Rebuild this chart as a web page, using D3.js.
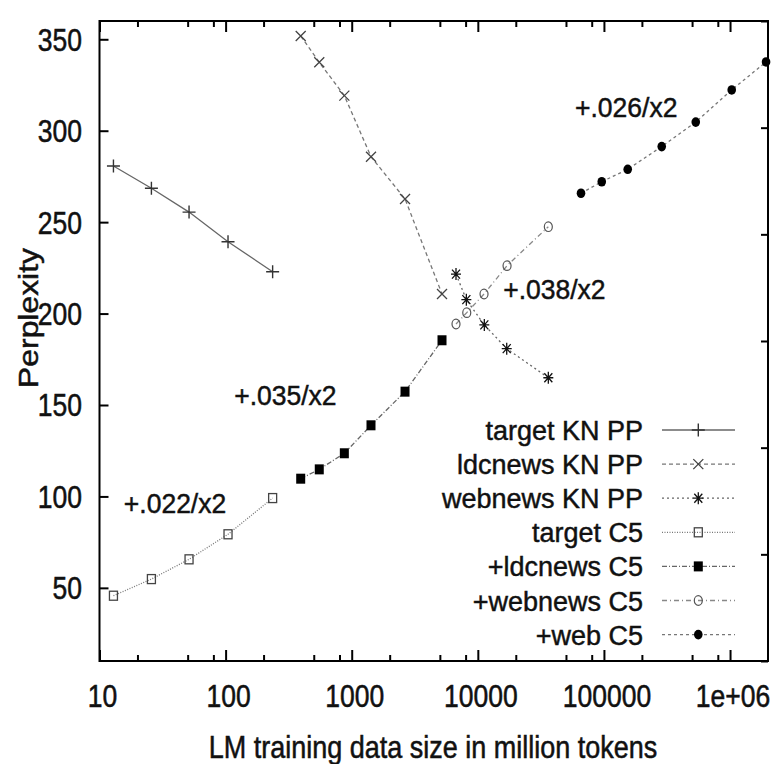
<!DOCTYPE html>
<html>
<head>
<meta charset="utf-8">
<script src="https://cdn.jsdelivr.net/npm/d3@7"></script>
<style>
  body { margin: 0; background: #fff; }
  text { font-family: "Liberation Sans", Arial, sans-serif; fill: #111; stroke: #111; stroke-width: 0.45px; }
</style>
</head>
<body>
<div id="chart"></div>
<script>
// data (x = million tokens, y = perplexity)
var targetX = [12.9, 25.8, 51.3, 104.5, 236];
var ldcX = [394, 553, 874, 1422, 2647, 5200];
var webnewsX = [6714, 8110, 11260, 16950, 36230];
var webnewsC5X = [6714, 8170, 11200, 17050, 36230];
var webX = [65800, 96100, 154400, 287200, 534700, 1031000, 1930000];

var targetKN = [280.7, 268.5, 255.5, 239.3, 222.9];
var ldcnewsKN = [351.8, 337.4, 319.2, 285.8, 262.7, 210.7];
var webnewsKN = [221.6, 207.6, 193.8, 180.8, 164.9];
var targetC5 = [45.7, 54.8, 65.6, 79.3, 99.1];
var ldcnewsC5 = [109.7, 114.8, 123.6, 138.9, 157.3, 185.4];
var webnewsC5 = [194.3, 200.5, 210.7, 226.2, 247.5];
var webC5 = [265.8, 272.1, 278.9, 291.3, 304.7, 322.3, 337.6];

var seriesNames = ["target KN PP", "ldcnews KN PP", "webnews KN PP", "target C5", "+ldcnews C5", "+webnews C5", "+web C5"];

var xMajor = [10, 100, 1000, 10000, 100000, 1000000];
var xTickLabels = ["10", "100", "1000", "10000", "100000", "1e+06"];
var yTicks = [50, 100, 150, 200, 250, 300, 350];

var annoText = ["+.026/x2", "+.038/x2", "+.035/x2", "+.022/x2"];
var annoX = [59000, 15900, 117, 15.6];
var annoY = [307.3, 208, 150, 91.1];

var W = 775, H = 764;
// plot frame (note: "top" is reserved on window, so use other names)
var plotL = 99.5, plotR = 768, plotT = 21, plotB = 661;

var x = d3.scaleLog().domain([10, 2e6]).range([plotL, plotR]);
var y = d3.scaleLinear().domain([10, 360]).range([plotB, plotT]);
var y2 = d3.scaleLinear().domain([0, 6]).range([plotB, plotT]);

var svg = d3.select("#chart").append("svg")
  .attr("width", W).attr("height", H);

// minor ticks at 2,5,8 per decade
var xMinor = [];
xMajor.forEach(function (m) {
  [2, 5, 8].forEach(function (k) {
    if (m * k < 2e6) xMinor.push(m * k);
  });
});

function tickStyle(g) {
  g.select(".domain").remove();
  g.selectAll("line").attr("stroke", "#000").attr("stroke-width", 2);
}

svg.append("g").attr("transform", "translate(0," + plotB + ")")
  .call(d3.axisBottom(x).tickValues(xMajor).tickSize(-11).tickFormat("")).call(tickStyle);
svg.append("g").attr("transform", "translate(0," + plotB + ")")
  .call(d3.axisBottom(x).tickValues(xMinor).tickSize(-6).tickFormat("")).call(tickStyle);
svg.append("g").attr("transform", "translate(0," + plotT + ")")
  .call(d3.axisTop(x).tickValues(xMajor).tickSize(-11).tickFormat("")).call(tickStyle);
svg.append("g").attr("transform", "translate(0," + plotT + ")")
  .call(d3.axisTop(x).tickValues(xMinor).tickSize(-6).tickFormat("")).call(tickStyle);
svg.append("g").attr("transform", "translate(" + plotL + ",0)")
  .call(d3.axisLeft(y).tickValues(yTicks).tickSize(-9).tickFormat("")).call(tickStyle);
svg.append("g").attr("transform", "translate(" + plotR + ",0)")
  .call(d3.axisRight(y2).ticks(6).tickSize(-7).tickFormat("")).call(tickStyle);

// frame
svg.append("rect")
  .attr("x", plotL).attr("y", plotT)
  .attr("width", plotR - plotL).attr("height", plotB - plotT)
  .attr("fill", "none").attr("stroke", "#000").attr("stroke-width", 2);

function label(txt, px, py, size, sy, anchor, extra) {
  return svg.append("text")
    .attr("transform", "translate(" + px + "," + py + ") scale(1," + sy + ")" + (extra || ""))
    .attr("text-anchor", anchor)
    .style("font-size", size + "px")
    .text(txt);
}

// tick labels
yTicks.forEach(function (v) {
  label(v, 82, y(v), 26.5, 1.2, "end").attr("dy", "0.36em");
});
xMajor.forEach(function (v, i) {
  label(xTickLabels[i], x(v) + 3, 707, 26.5, 1.19, "middle");
});

// axis titles
label("LM training data size in million tokens", 433, 758, 27, 1.18, "middle");
label("Perplexity", 38, 318, 27, 1.18, "middle", " rotate(-90)");

// series
var series = [
  { name: seriesNames[0], xs: targetX, ys: targetKN, mark: "plus", dash: null, color: "#666", mcol: "#333" },
  { name: seriesNames[1], xs: ldcX, ys: ldcnewsKN, mark: "cross", dash: "4,3", color: "#777", mcol: "#444" },
  { name: seriesNames[2], xs: webnewsX, ys: webnewsKN, mark: "star", dash: "2,3", color: "#666", mcol: "#111" },
  { name: seriesNames[3], xs: targetX, ys: targetC5, mark: "square", dash: "1,1.5", color: "#777", mcol: "#444" },
  { name: seriesNames[4], xs: ldcX, ys: ldcnewsC5, mark: "fsquare", dash: "5,2,1,2", color: "#666", mcol: "#000" },
  { name: seriesNames[5], xs: webnewsC5X, ys: webnewsC5, mark: "circle", dash: "5,3,1,3", color: "#888", mcol: "#555" },
  { name: seriesNames[6], xs: webX, ys: webC5, mark: "fcircle", dash: "3,3", color: "#777", mcol: "#000" }
];

var line = d3.line()
  .x(function (d) { return x(d[0]); })
  .y(function (d) { return y(d[1]); });

function drawMark(g, type, color) {
  if (type === "plus") {
    g.append("path").attr("d", "M-6.5,0H6.5M0,-6.5V6.5").attr("stroke", color).attr("stroke-width", 1.4);
  } else if (type === "cross") {
    g.append("path").attr("d", "M-5,-5L5,5M-5,5L5,-5").attr("stroke", color).attr("stroke-width", 1.3);
  } else if (type === "star") {
    g.append("path").attr("d", "M-5,0H5M0,-6V6M-4,-4.5L4,4.5M-4,4.5L4,-4.5").attr("stroke", color).attr("stroke-width", 1.3);
  } else if (type === "square") {
    g.append("rect").attr("x", -4).attr("y", -4.5).attr("width", 8).attr("height", 9)
      .attr("fill", "none").attr("stroke", color).attr("stroke-width", 1.3);
  } else if (type === "fsquare") {
    g.append("rect").attr("x", -4.5).attr("y", -5).attr("width", 9).attr("height", 10).attr("fill", color);
  } else if (type === "circle") {
    g.append("ellipse").attr("rx", 4).attr("ry", 4.8)
      .attr("fill", "none").attr("stroke", color).attr("stroke-width", 1.2);
  } else if (type === "fcircle") {
    g.append("ellipse").attr("rx", 4.3).attr("ry", 4.8).attr("fill", color);
  }
}

series.forEach(function (s) {
  var pts = s.xs.map(function (v, i) { return [v, s.ys[i]]; });
  svg.append("path")
    .datum(pts)
    .attr("d", line)
    .attr("fill", "none")
    .attr("stroke", s.color)
    .attr("stroke-width", 1.3)
    .attr("stroke-dasharray", s.dash);
  pts.forEach(function (p) {
    var g = svg.append("g").attr("transform", "translate(" + x(p[0]) + "," + y(p[1]) + ")");
    drawMark(g, s.mark, s.mcol);
  });
});

// annotations
annoText.forEach(function (t, i) {
  label(t, x(annoX[i]), y(annoY[i]), 26.5, 1.05, "start");
});

// legend
var legend = svg.append("g");
series.forEach(function (s, i) {
  var cy = 430 + 34.1 * i;
  legend.append("text")
    .attr("x", 643).attr("y", cy + 10)
    .attr("text-anchor", "end")
    .style("font-size", "27px")
    .text(s.name);
  legend.append("line")
    .attr("x1", 662).attr("x2", 735).attr("y1", cy).attr("y2", cy)
    .attr("stroke", s.color).attr("stroke-width", 1.3)
    .attr("stroke-dasharray", s.dash);
  var g = legend.append("g").attr("transform", "translate(698.3," + cy + ")");
  drawMark(g, s.mark, s.mcol);
});
</script>
</body>
</html>
